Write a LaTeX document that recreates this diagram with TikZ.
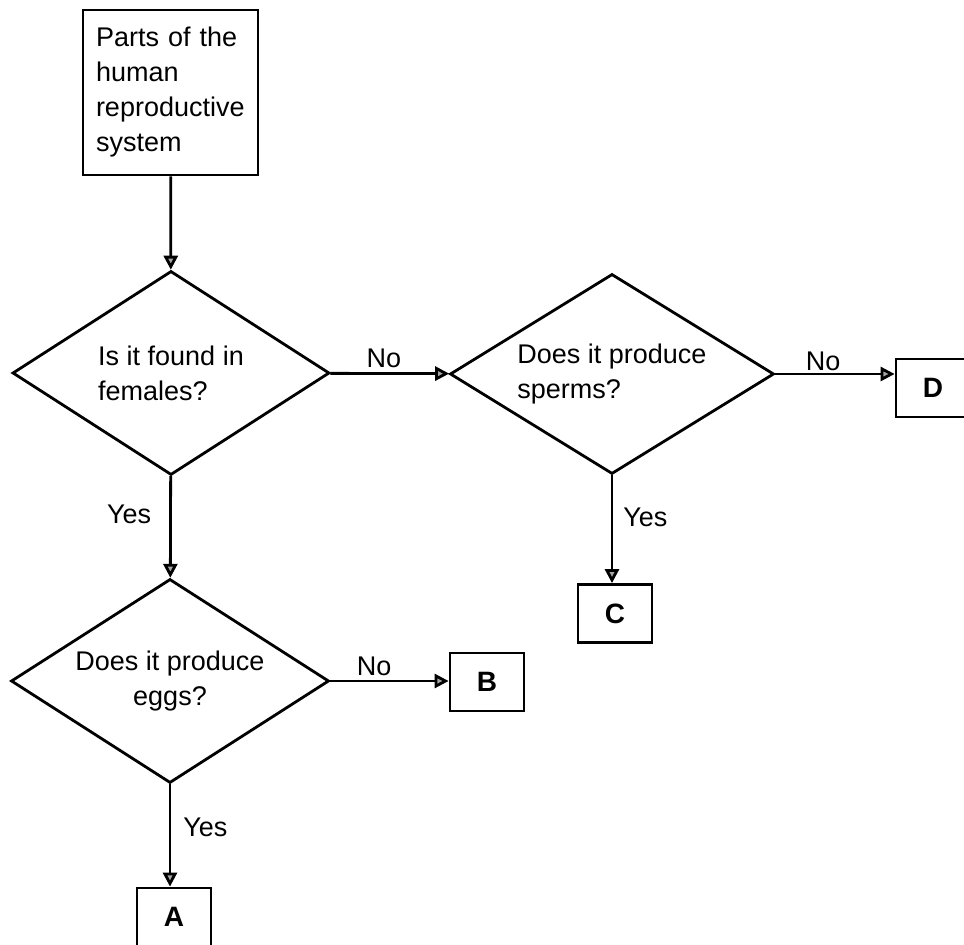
\documentclass[tikz,border=0pt]{standalone}
\usepackage{fontspec}
\setmainfont{Liberation Sans}
\usetikzlibrary{shapes.geometric,arrows.meta}
\begin{document}
\begin{tikzpicture}[x=0.5pt,y=-0.5pt,line width=1.4pt,
    font=\fontsize{13.5}{17.5}\selectfont,
    question/.style={draw,diamond,inner sep=0pt},
    answer/.style={draw,minimum width=37pt,minimum height=29pt,inner sep=0pt,font=\fontsize{14}{17}\selectfont\bfseries},
    flow/.style={-{Triangle[length=7pt,width=7pt,fill=gray!70]}},
    tag/.style={inner sep=2pt}]
  \useasboundingbox (0,0) rectangle (964,945);
  \node[draw,align=left,text width=74.5pt,inner xsep=6.5pt,minimum height=82.5pt]
    (start) at (170.5,92.5) {Parts of the\\human\\reproductive\\system};
  \node[question,aspect=1.55,minimum width=158.5pt,minimum height=102pt,align=left]
    (female) at (171,373) {Is it found in\\females?};
  \node[question,aspect=1.62,minimum width=162pt,minimum height=100pt,align=left]
    (sperm) at (612,374) {Does it produce\\sperms?};
  \node[question,aspect=1.56,minimum width=159pt,minimum height=102pt,align=center]
    (egg) at (170,681) {Does it produce\\eggs?};
  \node[answer] (A) at (174,917) {A};
  \node[answer] (B) at (487,682) {B};
  \node[answer] (C) at (615,613.5) {C};
  \node[answer] (D) at (933,388) {D};
  % connectors
  \draw[flow] (start) -- (female);
  \draw[flow] (female) -- (sperm) node[tag,pos=0.45,above]{No};
  \draw[flow] (female) -- (egg) node[tag,pos=0.38,left,inner xsep=9pt]{Yes};
  \draw[flow] (sperm.east) -- (sperm.east -| D.west) node[tag,pos=0.4,above,inner sep=1pt]{No};
  \draw[flow] (sperm.south) -- (sperm.south |- C.north) node[tag,pos=0.39,right,inner xsep=5pt]{Yes};
  \draw[flow] (egg.east) -- (egg.east -| B.west) node[tag,pos=0.37,above]{No};
  \draw[flow] (egg.south) -- (egg.south |- A.north) node[tag,pos=0.42,right,inner xsep=6pt]{Yes};
\end{tikzpicture}
\end{document}
